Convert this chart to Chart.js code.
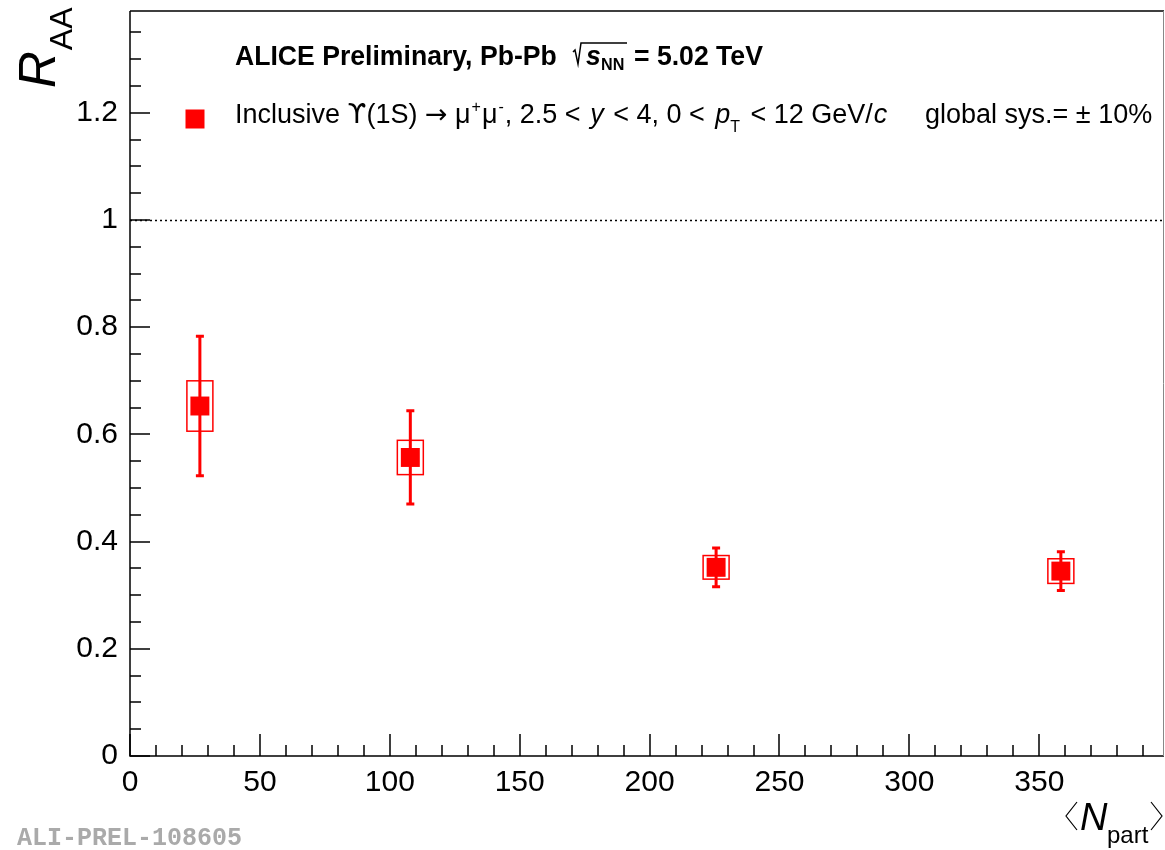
<!DOCTYPE html>
<html>
<head>
<meta charset="utf-8">
<script src="https://cdn.jsdelivr.net/npm/chart.js@4"></script>
<style>
  body { margin: 0; background: #fff; }
  #wrap { width: 1165px; height: 850px; }
</style>
</head>
<body>
<div id="wrap"><canvas id="chart" width="1165" height="850"></canvas></div>
<script>
// <Npart> of each centrality class and measured R_AA
const nPart = [26.9, 107.9, 225.6, 358.3];
const raa = [0.653, 0.557, 0.352, 0.345];
const statErr = [0.130, 0.087, 0.036, 0.036];
const sysErr = [0.047, 0.032, 0.022, 0.023];
const sysHalfWidth = [5, 5, 5, 5];

const xTickVals = [0, 50, 100, 150, 200, 250, 300, 350];
const yTickVals = [0, 0.2, 0.4, 0.6, 0.8, 1, 1.2];
const yTickLabels = ['0', '0.2', '0.4', '0.6', '0.8', '1', '1.2'];
const xMinorStep = 10;
const yMinorStep = 0.05;
const xMax = 398;
const yMax = 1.39;
const refLine = 1;

const RED = '#ff0000';
const FONT = '"Liberation Sans", Arial, Helvetica, sans-serif';

// draws text pieces one after another; "at" jumps to an absolute x,
// sx squeezes the glyphs horizontally
function drawRich(ctx, x, y, parts, sx = 1) {
    parts.forEach(p => {
        if (p.at !== undefined) x = p.at;
        ctx.font = p.font;
        ctx.save();
        ctx.translate(x, y + (p.dy || 0));
        ctx.scale(sx, 1);
        ctx.fillText(p.t, 0, 0);
        ctx.restore();
        x += ctx.measureText(p.t).width * sx + (p.gap || 0);
    });
    return x;
}

const decorPlugin = {
    id: 'decor',
    beforeDatasetsDraw(chart) {
        const ctx = chart.ctx;
        const xs = chart.scales.x, ys = chart.scales.y;
        const area = chart.chartArea;
        ctx.save();

        // reference line at R_AA = 1
        ctx.strokeStyle = '#000';
        ctx.lineWidth = 1.5;
        ctx.setLineDash([2, 3]);
        const yr = Math.round(ys.getPixelForValue(refLine)) + 0.5;
        ctx.beginPath();
        ctx.moveTo(area.left, yr);
        ctx.lineTo(area.right, yr);
        ctx.stroke();
        ctx.setLineDash([]);

        // systematic boxes
        ctx.strokeStyle = RED;
        ctx.lineWidth = 1.5;
        nPart.forEach((x, i) => {
            const x0 = xs.getPixelForValue(x - sysHalfWidth[i]);
            const x1 = xs.getPixelForValue(x + sysHalfWidth[i]);
            const y0 = ys.getPixelForValue(raa[i] + sysErr[i]);
            const y1 = ys.getPixelForValue(raa[i] - sysErr[i]);
            ctx.strokeRect(x0, y0, x1 - x0, y1 - y0);
        });

        // statistical error bars
        ctx.lineWidth = 3;
        nPart.forEach((x, i) => {
            const px = xs.getPixelForValue(x);
            const yt = ys.getPixelForValue(raa[i] + statErr[i]);
            const yb = ys.getPixelForValue(raa[i] - statErr[i]);
            ctx.beginPath();
            ctx.moveTo(px, yt);
            ctx.lineTo(px, yb);
            ctx.moveTo(px - 4, yt);
            ctx.lineTo(px + 4, yt);
            ctx.moveTo(px - 4, yb);
            ctx.lineTo(px + 4, yb);
            ctx.stroke();
        });
        ctx.restore();
    },
    afterDraw(chart) {
        const ctx = chart.ctx;
        const xs = chart.scales.x, ys = chart.scales.y;
        const area = chart.chartArea;
        ctx.save();

        // frame
        ctx.strokeStyle = '#000';
        ctx.lineWidth = 1.5;
        ctx.beginPath();
        ctx.moveTo(area.left, area.top);
        ctx.lineTo(area.right, area.top);
        ctx.moveTo(area.left, area.top);
        ctx.lineTo(area.left, area.bottom);
        ctx.lineTo(area.right, area.bottom);
        ctx.stroke();
        ctx.strokeStyle = '#888';
        ctx.lineWidth = 1;
        ctx.beginPath();
        ctx.moveTo(area.right - 0.5, area.top);
        ctx.lineTo(area.right - 0.5, area.bottom);
        ctx.stroke();

        // inner ticks, ROOT style
        ctx.strokeStyle = '#000';
        ctx.lineWidth = 1.5;
        ctx.beginPath();
        for (let k = 0; k * xMinorStep <= xMax; k++) {
            const v = k * xMinorStep;
            const px = Math.round(xs.getPixelForValue(v));
            const len = (k % 5 === 0) ? 22 : 11;
            ctx.moveTo(px, area.bottom);
            ctx.lineTo(px, area.bottom - len);
        }
        for (let k = 0; k * yMinorStep <= yMax; k++) {
            const v = k * yMinorStep;
            const py = Math.round(ys.getPixelForValue(v));
            const len = (k % 4 === 0) ? 20 : 11;
            ctx.moveTo(area.left, py);
            ctx.lineTo(area.left + len, py);
        }
        ctx.stroke();

        ctx.fillStyle = '#000';
        ctx.textBaseline = 'alphabetic';
        ctx.textAlign = 'left';

        // header line
        const B = 'bold 28px ' + FONT;
        drawRich(ctx, 235, 65, [{ t: 'ALICE Preliminary, Pb-Pb', font: B }], 0.95);
        ctx.lineWidth = 1.5;
        ctx.beginPath();
        ctx.moveTo(573, 52);
        ctx.lineTo(575, 50);
        ctx.lineTo(578, 64);
        ctx.lineTo(581, 43);
        ctx.lineTo(627, 43);
        ctx.stroke();
        drawRich(ctx, 586, 65, [
            { t: 's', font: 'italic bold 28px ' + FONT },
            { t: 'NN', font: 'bold 17px ' + FONT, dy: 5, at: 601 },
            { t: '= 5.02 TeV', font: B, at: 634 }
        ], 0.95);

        // legend entry
        const mx = 195, my = 119;
        ctx.fillStyle = RED;
        ctx.fillRect(mx - 9.5, my - 9.5, 19, 19);
        ctx.fillStyle = '#000';
        const N = '27px ' + FONT, I = 'italic 27px ' + FONT, S = '16px ' + FONT;
        const SYM = '27px "DejaVu Sans", ' + FONT;
        drawRich(ctx, 235, 123, [
            { t: 'Inclusive ', font: N },
            { t: '\u03D2', font: SYM },
            { t: '(1S) ', font: N },
            { t: '\u2192', font: SYM },
            { t: ' \u03BC', font: N, gap: 1 },
            { t: '+', font: S, dy: -11, gap: 1 },
            { t: '\u03BC', font: N, gap: 1 },
            { t: '-', font: S, dy: -11, gap: 1 },
            { t: ', 2.5 < ', font: N, gap: 2 },
            { t: 'y', font: I, gap: 2 },
            { t: ' < 4, 0 < ', font: N, gap: 3 },
            { t: 'p', font: I },
            { t: 'T', font: S, dy: 9, gap: 3 },
            { t: ' < 12 GeV/', font: N, gap: 1 },
            { t: 'c', font: I }
        ]);
        drawRich(ctx, 925, 123, [{ t: 'global sys.= \u00B1 10%', font: N }]);

        // y title R_AA
        ctx.save();
        ctx.translate(55, 88);
        ctx.rotate(-Math.PI / 2);
        const rx = drawRich(ctx, 0, 0, [{ t: 'R', font: 'italic 51px ' + FONT }]);
        drawRich(ctx, rx + 1, 17, [{ t: 'AA', font: '32px ' + FONT }]);
        ctx.restore();

        // x title <N_part>
        ctx.lineWidth = 1.2;
        ctx.beginPath();
        ctx.moveTo(1077, 802);
        ctx.lineTo(1066, 816);
        ctx.lineTo(1077, 830);
        ctx.moveTo(1151, 802);
        ctx.lineTo(1162, 816);
        ctx.lineTo(1151, 830);
        ctx.stroke();
        drawRich(ctx, 1080, 830, [{ t: 'N', font: 'italic 38px ' + FONT }]);
        drawRich(ctx, 1107, 843, [{ t: 'part', font: '24px ' + FONT }]);

        // preliminary id
        ctx.fillStyle = '#aaaaaa';
        ctx.font = 'bold 25px "Liberation Mono", "DejaVu Sans Mono", monospace';
        ctx.fillText('ALI-PREL-108605', 17, 845);

        ctx.restore();
    }
};

new Chart(document.getElementById('chart'), {
    type: 'scatter',
    data: {
        datasets: [{
            data: nPart.map((x, i) => ({ x: x, y: raa[i] })),
            pointStyle: 'rect',
            pointRadius: 13.4,
            pointHoverRadius: 13.4,
            backgroundColor: RED,
            borderWidth: 0
        }]
    },
    options: {
        responsive: false,
        animation: false,
        devicePixelRatio: 1,
        layout: { autoPadding: false, padding: { top: 11, right: 1, left: 0, bottom: 0 } },
        plugins: {
            legend: { display: false },
            tooltip: { enabled: false }
        },
        scales: {
            x: {
                type: 'linear',
                min: 0,
                max: xMax,
                afterBuildTicks: s => { s.ticks = xTickVals.map(v => ({ value: v })); },
                afterFit: s => {
                    s.height = 94;
                    s.paddingLeft = 0;
                    s.paddingRight = 0;
                },
                grid: { display: false, drawTicks: false },
                border: { display: false },
                ticks: {
                    color: '#000',
                    font: { family: FONT, size: 30 },
                    padding: 9,
                    maxRotation: 0,
                    autoSkip: false,
                    callback: v => String(v)
                }
            },
            y: {
                type: 'linear',
                min: 0,
                max: yMax,
                afterBuildTicks: s => { s.ticks = yTickVals.map(v => ({ value: v })); },
                afterFit: s => {
                    s.width = 130;
                    s.paddingTop = 0;
                    s.paddingBottom = 0;
                },
                grid: { display: false, drawTicks: false },
                border: { display: false },
                ticks: {
                    color: '#000',
                    font: { family: FONT, size: 30 },
                    padding: 12,
                    autoSkip: false,
                    callback: (v, i) => yTickLabels[i]
                }
            }
        }
    },
    plugins: [decorPlugin]
});
</script>
</body>
</html>
